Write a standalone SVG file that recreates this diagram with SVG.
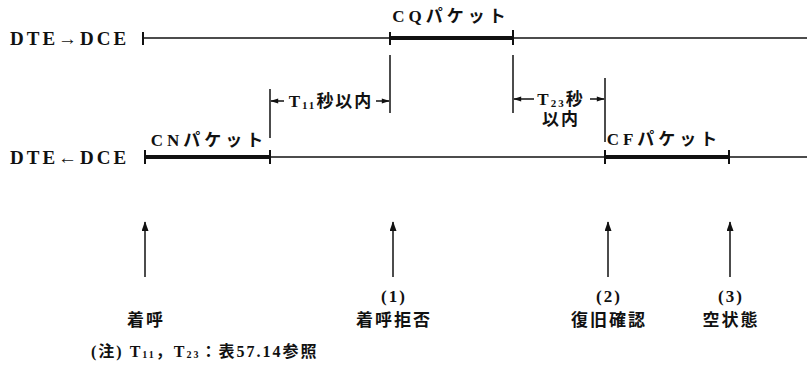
<svg xmlns="http://www.w3.org/2000/svg" width="807" height="367" viewBox="0 0 807 367">
<style>
.t{font-family:"Liberation Serif","Noto Sans CJK JP",serif;fill:#111;font-weight:bold;}
.lbl{font-size:19px;letter-spacing:3px;}
.pk{font-size:17px;letter-spacing:4px;}
.jp{font-size:17px;letter-spacing:2px;}
.ln{stroke:#111;stroke-width:1.5;fill:none;}
.thick{stroke:#111;stroke-width:4;fill:none;}
.tick{stroke:#111;stroke-width:2;fill:none;}
.ar{stroke:#111;stroke-width:1.5;fill:none;}
</style>
<defs>
<marker id="ah" viewBox="0 0 10 10" refX="9" refY="5" markerWidth="10" markerHeight="8" markerUnits="userSpaceOnUse" orient="auto">
<path d="M0,2 L10,5 L0,8 Z" fill="#111"/>
</marker>
<marker id="up" viewBox="0 0 14 10" refX="13" refY="5" markerWidth="14" markerHeight="7" markerUnits="userSpaceOnUse" orient="auto">
<path d="M0,0 L14,5 L0,10 Z" fill="#111"/>
</marker>
</defs>
<g id="timelines">
<text class="t lbl" x="10" y="45">DTE→DCE</text>
<line class="ln" x1="143" y1="38" x2="807" y2="38"/>
<line class="tick" x1="143" y1="32" x2="143" y2="45"/>
<text class="t lbl" x="10" y="164">DTE←DCE</text>
<line class="ln" x1="145" y1="157" x2="807" y2="157"/>
</g>
<g id="cq">
<line class="thick" x1="390" y1="38" x2="513" y2="38"/>
<line class="tick" x1="390" y1="32" x2="390" y2="45"/>
<line class="tick" x1="513" y1="30" x2="513" y2="45"/>
<text class="t pk" x="451" y="22" text-anchor="middle">CQパケット</text>
</g>
<g id="cn">
<line class="thick" x1="145" y1="157" x2="270" y2="157"/>
<line class="tick" x1="145" y1="150" x2="145" y2="164"/>
<line class="tick" x1="270" y1="150" x2="270" y2="164"/>
<text class="t pk" x="209" y="146" text-anchor="middle">CNパケット</text>
</g>
<g id="cf">
<line class="thick" x1="605" y1="157" x2="729" y2="157"/>
<line class="tick" x1="605" y1="150" x2="605" y2="164"/>
<line class="tick" x1="729" y1="150" x2="729" y2="164"/>
<text class="t pk" x="664" y="145" text-anchor="middle">CFパケット</text>
</g>
<g id="t11">
<line class="ln" x1="270" y1="89" x2="270" y2="138"/>
<line class="ln" x1="390" y1="55" x2="390" y2="113"/>
<line class="ar" x1="284" y1="101" x2="271" y2="101" marker-end="url(#ah)"/>
<line class="ar" x1="376" y1="101" x2="389" y2="101" marker-end="url(#ah)"/>
<text class="t jp" font-size="16" x="331" y="107" text-anchor="middle">T<tspan font-size="11" dy="2">11</tspan><tspan dy="-2">秒以内</tspan></text>
</g>
<g id="t23">
<line class="ln" x1="513" y1="55" x2="513" y2="113"/>
<line class="ln" x1="605" y1="78" x2="605" y2="142"/>
<line class="ar" x1="534" y1="99" x2="514" y2="99" marker-end="url(#ah)"/>
<line class="ar" x1="590" y1="99" x2="604" y2="99" marker-end="url(#ah)"/>
<text class="t jp" x="561" y="105" text-anchor="middle">T<tspan font-size="11" dy="2">23</tspan><tspan dy="-2">秒</tspan></text>
<text class="t jp" x="561" y="125" text-anchor="middle">以内</text>
</g>
<g id="connectors">
<line class="ln" x1="145" y1="277" x2="145" y2="222" marker-end="url(#up)"/>
<line class="ln" x1="393" y1="277" x2="393" y2="222" marker-end="url(#up)"/>
<line class="ln" x1="608" y1="277" x2="608" y2="222" marker-end="url(#up)"/>
<line class="ln" x1="730" y1="277" x2="730" y2="222" marker-end="url(#up)"/>
</g>
<g id="ev0">
<text class="t jp" x="146" y="326" text-anchor="middle">着呼</text>
</g>
<g id="ev1">
<text class="t jp" font-size="18" x="394" y="302" text-anchor="middle">(1)</text>
<text class="t jp" x="394" y="326" text-anchor="middle">着呼拒否</text>
</g>
<g id="ev2">
<text class="t jp" font-size="18" x="609" y="302" text-anchor="middle">(2)</text>
<text class="t jp" x="609" y="326" text-anchor="middle">復旧確認</text>
</g>
<g id="ev3">
<text class="t jp" font-size="18" x="731" y="302" text-anchor="middle">(3)</text>
<text class="t jp" x="731" y="326" text-anchor="middle">空状態</text>
</g>
<g id="note">
<text class="t" font-size="16" letter-spacing="2" x="91" y="357">(注) T<tspan font-size="10" dy="1">11</tspan><tspan dy="-1">，T</tspan><tspan font-size="10" dy="1">23</tspan><tspan dy="-1">：表57.14参照</tspan></text>
</g>
</svg>
